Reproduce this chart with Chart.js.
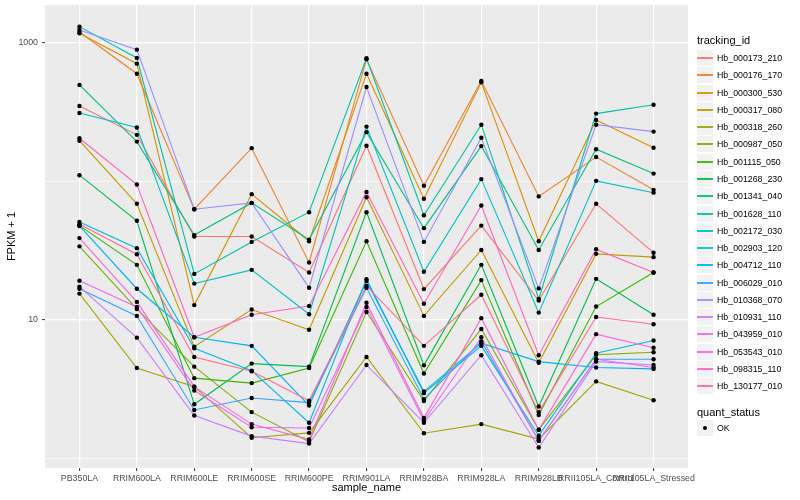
<!DOCTYPE html>
<html>
<head>
<meta charset="utf-8">
<script src="https://cdn.jsdelivr.net/npm/chart.js@4.4.0/dist/chart.umd.min.js"></script>
<style>
body { margin: 0; background: #fff; }
#wrap { position: relative; width: 800px; height: 500px; font-family: "Liberation Sans", Arial, sans-serif; }
#legend { position: absolute; left: 697px; top: 0; width: 103px; height: 500px; }
.lt { position: absolute; left: 0; font-size: 11px; line-height: 14px; color: #000; white-space: nowrap; }
.key { position: absolute; left: 0; width: 16px; height: 16px; background: #F2F2F2; }
.key span { position: absolute; left: 0; right: 0; top: 7px; height: 2px; opacity: 0.9; }
.key i { position: absolute; left: 6px; top: 6px; width: 4px; height: 4px; border-radius: 2px; background: #000; }
.lab { position: absolute; left: 20px; height: 16px; line-height: 16px; font-size: 8.8px; color: #000; white-space: nowrap; }
</style>
</head>
<body>
<div id="wrap">
  <canvas id="myChart" width="800" height="500"></canvas>
  <div id="legend"></div>
</div>
<script>
// categories along x
const samples = ['PB350LA', 'RRIM600LA', 'RRIM600LE', 'RRIM600SE', 'RRIM600PE', 'RRIM901LA',
  'RRIM928BA', 'RRIM928LA', 'RRIM928LB', 'RRII105LA_Control', 'RRII105LA_Stressed'];
const trackingIds = ['Hb_000173_210', 'Hb_000176_170', 'Hb_000300_530', 'Hb_000317_080', 'Hb_000318_260',
  'Hb_000987_050', 'Hb_001115_050', 'Hb_001268_230', 'Hb_001341_040', 'Hb_001628_110', 'Hb_002172_030',
  'Hb_002903_120', 'Hb_004712_110', 'Hb_006029_010', 'Hb_010368_070', 'Hb_010931_110', 'Hb_043959_010',
  'Hb_053543_010', 'Hb_098315_110', 'Hb_130177_010'];
const colors = ['#F8766D', '#EA8331', '#D89000', '#C09B00', '#A3A500', '#7CAE00', '#39B600', '#00BB4E',
  '#00BF7D', '#00C1A3', '#00BFC4', '#00BAE0', '#00B0F6', '#35A2FF', '#9590FF', '#C77CFF', '#E76BF3',
  '#FA62DB', '#FF62BC', '#FF6C91'];
const yTicks = [1, 10, 100, 1000];
const yLabels = [10, 1000];

// FPKM + 1, one value per sample
const hb_000173_210 = [351, 217, 40, 40, 22, 181, 16.7, 48, 13.8, 69, 30.6];
const hb_000176_170 = [1200, 600, 63, 174, 26, 763, 93, 532, 78, 150, 87];
const hb_000300_530 = [1175, 709, 12.8, 81, 37, 600, 75, 520, 37, 278, 175];
const hb_000317_080 = [197, 69, 6.4, 11.9, 8.5, 77, 10.7, 32, 4.9, 30, 28.4];
const hb_000318_260 = [15.5, 4.5, 3.3, 1.41, 1.53, 5.4, 1.52, 1.77, 1.38, 3.6, 2.63];
const hb_000987_050 = [34, 12, 4.6, 2.16, 1.32, 11.4, 2.6, 8.6, 1.61, 5.6, 5.85];
const hb_001115_050 = [48, 25, 3.8, 3.5, 4.5, 37, 4.1, 19.4, 2.06, 12.5, 22];
const hb_001268_230 = [111, 52, 2.46, 4.84, 4.6, 60, 4.7, 25, 2.37, 19.8, 10.9];
const hb_001341_040 = [498, 194, 41, 70, 38, 227, 46, 180, 32, 171, 114];
const hb_001628_110 = [1312, 780, 21.5, 36.6, 60, 775, 57, 257, 14.2, 309, 358];
const hb_002172_030 = [312, 245, 18.3, 23, 11, 249, 22.3, 104, 11.3, 101, 83];
const hb_002903_120 = [51, 33, 6.25, 4.3, 1.81, 19.7, 2.96, 6.5, 1.46, 5.75, 7.1];
const hb_004712_110 = [47.7, 16.8, 7.5, 6.5, 2.41, 19.1, 3.04, 6.8, 5.0, 4.53, 4.43];
const hb_006029_010 = [16.8, 10.7, 2.24, 2.73, 2.53, 17.1, 2.68, 7.0, 1.34, 5.2, 5.2];
const hb_010368_070 = [1241, 895, 63, 70, 17.1, 481, 36.6, 207, 16.9, 257, 229];
const hb_010931_110 = [17.4, 7.45, 2.04, 1.45, 1.28, 4.73, 1.81, 5.56, 1.2, 5.0, 4.73];
const hb_043959_010 = [19.2, 12.4, 3.09, 1.68, 1.66, 12.4, 1.87, 7.5, 1.34, 5.2, 4.53];
const hb_053543_010 = [39, 13.5, 3.3, 1.77, 1.37, 13.3, 1.96, 10.3, 1.61, 7.9, 6.3];
const hb_098315_110 = [205, 95, 7.5, 10.9, 12.6, 84, 13.1, 67, 5.56, 32.4, 22];
const hb_130177_010 = [49, 29.8, 5.4, 4.26, 2.61, 17.6, 6.5, 15.2, 2.16, 10.5, 9.3];

const series = [hb_000173_210, hb_000176_170, hb_000300_530, hb_000317_080, hb_000318_260, hb_000987_050,
  hb_001115_050, hb_001268_230, hb_001341_040, hb_001628_110, hb_002172_030, hb_002903_120, hb_004712_110,
  hb_006029_010, hb_010368_070, hb_010931_110, hb_043959_010, hb_053543_010, hb_098315_110, hb_130177_010];

const datasets = series.map((vals, i) => ({
  label: trackingIds[i],
  data: vals.map((v, j) => ({x: j, y: v})),
  borderColor: colors[i],
  borderWidth: 1.1,
  pointRadius: 0,
  tension: 0,
  order: series.length - i
}));
// quant_status = OK points, on top of every line
datasets.push({
  label: 'OK',
  data: series.flatMap(vals => vals.map((v, j) => ({x: j, y: v}))),
  showLine: false,
  pointRadius: 2.2,
  pointBackgroundColor: '#000',
  pointBorderWidth: 0,
  order: -1
});

const panelBg = {
  id: 'panelBg',
  beforeDraw(chart) {
    const {ctx, chartArea: a} = chart;
    ctx.save();
    ctx.fillStyle = '#EBEBEB';
    ctx.fillRect(a.left, a.top, a.right - a.left, a.bottom - a.top);
    ctx.restore();
  }
};

const font = 'Liberation Sans, Arial, sans-serif';
const chart = new Chart(document.getElementById('myChart'), {
  type: 'line',
  data: {datasets},
  plugins: [panelBg],
  options: {
    responsive: false,
    animation: false,
    devicePixelRatio: 1,
    layout: {padding: {left: 0, right: 112, top: 5, bottom: 0}},
    plugins: {legend: {display: false}, tooltip: {enabled: false}},
    scales: {
      x: {
        type: 'linear',
        min: -0.6,
        max: samples.length - 1 + 0.6,
        afterBuildTicks: s => { s.ticks = samples.map((_, i) => ({value: i})); },
        afterFit: s => { s.height = 32; s.paddingLeft = 0; s.paddingRight = 0; },
        border: {display: false},
        grid: {color: '#FFFFFF', lineWidth: 1.2, tickColor: '#333333', tickLength: 3, tickWidth: 1},
        ticks: {
          autoSkip: false, maxRotation: 0, minRotation: 0, padding: 2,
          color: '#4D4D4D', font: {family: font, size: 8.8},
          callback: v => samples[v]
        },
        title: {display: true, text: 'sample_name', color: '#000', font: {family: font, size: 11}, padding: {top: 0, bottom: 5}}
      },
      y: {
        type: 'logarithmic',
        min: 0.853,
        max: 1880,
        afterBuildTicks: s => { s.ticks = yTicks.map(v => ({value: v})); },
        afterFit: s => { s.width = 45; s.paddingTop = 0; s.paddingBottom = 0; },
        border: {display: false},
        grid: {
          color: '#FFFFFF',
          lineWidth: c => yLabels.includes(c.tick && c.tick.value) ? 1.2 : 0.6,
          tickColor: c => yLabels.includes(c.tick && c.tick.value) ? '#333333' : 'rgba(0,0,0,0)',
          tickLength: 3,
          tickWidth: 1
        },
        ticks: {
          padding: 4, color: '#4D4D4D', font: {family: font, size: 8.8},
          callback: v => yLabels.includes(v) ? String(v) : ''
        },
        title: {display: true, text: 'FPKM + 1', color: '#000', font: {family: font, size: 11}, padding: {top: 5, bottom: 0}}
      }
    }
  }
});

// ggplot-style legend on the right
const leg = document.getElementById('legend');
const rowH = 17.28;
let html = '<div class="lt" style="top:33px">tracking_id</div>';
trackingIds.forEach((id, i) => {
  const top = Math.round(50 + i * rowH);
  html += `<div class="key" style="top:${top}px"><span style="background:${colors[i]}"></span></div>` +
    `<div class="lab" style="top:${top}px">${id}</div>`;
});
html += '<div class="lt" style="top:405px">quant_status</div>';
html += '<div class="key" style="top:420px"><i></i></div><div class="lab" style="top:420px">OK</div>';
leg.innerHTML = html;
</script>
</body>
</html>
